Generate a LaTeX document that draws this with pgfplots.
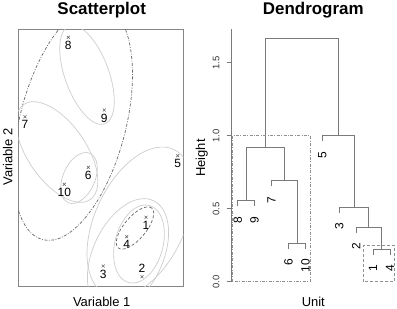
\documentclass[border=0pt]{standalone}
\usepackage{fontspec}
\setmainfont{Liberation Sans}
\usepackage{pgfplots}
\pgfplotsset{compat=1.18}
\definecolor{ellgray}{HTML}{CDCDCD}
\definecolor{dotgray}{HTML}{666666}
\definecolor{framegray}{HTML}{858585}
\definecolor{markgray}{HTML}{666666}
\definecolor{dgray}{HTML}{7A7A7A}
\definecolor{rectgray}{HTML}{909090}
\pgfplotsset{dseg/.style={draw=dgray, line width=0.9bp, mark=none, solid}}
\begin{document}
\begin{tikzpicture}
\path[use as bounding box] (0bp,0bp) rectangle (397bp,309bp);

% ---------------- Scatterplot ----------------
\begin{axis}[
  at={(18.3bp,22.3bp)}, anchor=south west,
  x=1bp, y=1bp,
  xmin=18.3, xmax=183.3, ymin=22.3, ymax=279.7,
  xtick=\empty, ytick=\empty,
  axis line style={draw=framegray, line width=0.9bp},
  clip=true,
]
\draw[dotgray, line width=0.7bp, dash pattern=on 3bp off 1.5bp on 0.8bp off 1.5bp,
  rotate around={75.5:(axis cs:72.9,186.5)}] (axis cs:72.9,186.5) ellipse [x radius=121bp, y radius=53bp];
\draw[ellgray, line width=0.7bp, rotate around={-70:(axis cs:87,234)}] (axis cs:87,234) ellipse [x radius=52bp, y radius=22bp];
\draw[ellgray, line width=0.7bp, rotate around={-55:(axis cs:57,157)}] (axis cs:57,157) ellipse [x radius=58bp, y radius=29bp];
\draw[ellgray, line width=0.7bp, rotate around={66:(axis cs:79,131)}] (axis cs:79,131) ellipse [x radius=27bp, y radius=16bp];
\draw[ellgray, line width=0.7bp, rotate around={75:(axis cs:139,65)}] (axis cs:139,65) ellipse [x radius=40bp, y radius=24bp];
\draw[ellgray, line width=0.7bp, rotate around={65:(axis cs:128,54)}] (axis cs:128,54) ellipse [x radius=60bp, y radius=35bp];
\draw[ellgray, line width=0.7bp, rotate around={65:(axis cs:140,87)}] (axis cs:140,87) ellipse [x radius=80bp, y radius=45bp];
\draw[dotgray, line width=0.7bp, dash pattern=on 3bp off 2bp,
  rotate around={50:(axis cs:135,81)}] (axis cs:135,81) ellipse [x radius=26bp, y radius=11bp];

\addplot[only marks, mark=x, mark size=2bp, mark options={draw=markgray, line width=0.6bp, solid},
  nodes near coords={\pgfplotspointmeta}, point meta=explicit symbolic,
  every node near coord/.append style={anchor=north, inner sep=0pt, yshift=-3.5bp,
    font=\fontsize{12}{12}\selectfont, text=black}]
  coordinates {
  (146,91.7) [1]
  (103.3,43) [3]
  (126.7,72.3) [4]
  (177.7,153.3) [5]
  (88.3,141.7) [6]
  (25,192.3) [7]
  (68.3,271.7) [8]
  (104.3,199) [9]
  (64.3,124.7) [10]
  };
\addplot[only marks, mark=x, mark size=2bp, mark options={draw=markgray, line width=0.6bp, solid},
  nodes near coords={\pgfplotspointmeta}, point meta=explicit symbolic,
  every node near coord/.append style={anchor=south, inner sep=0pt, yshift=3.5bp,
    font=\fontsize{12}{12}\selectfont, text=black}]
  coordinates {
  (142,32.3) [2]
  };
\end{axis}

% ---------------- Dendrogram ----------------
\begin{axis}[
  at={(231.7bp,27.2bp)}, anchor=south west,
  x=1bp, y=146bp,
  xmin=231.7, xmax=397, ymin=0, ymax=1.73,
  axis x line=none, axis y line=left,
  y axis line style={-, draw=dgray, line width=0.9bp},
  ytick={0,0.5,1,1.5},
  tick align=outside, major tick length=5bp,
  tick style={draw=dgray, line width=0.9bp},
  yticklabel style={rotate=90, anchor=south, inner sep=0pt, text=black!80,
    font=\fontsize{9.5}{9.5}\selectfont,
    /pgf/number format/.cd, fixed, fixed zerofill, precision=1, assume math mode=true},
  yticklabel shift=7bp,
  clip=false,
]
\addplot[dseg] coordinates {(237.7,0.516) (237.7,0.555) (254.6,0.555) (254.6,0.516)};
\addplot[dseg] coordinates {(288.5,0.226) (288.5,0.265) (305.4,0.265) (305.4,0.226)};
\addplot[dseg] coordinates {(271.5,0.653) (271.5,0.692) (296.95,0.692) (296.95,0.265)};
\addplot[dseg] coordinates {(246.15,0.555) (246.15,0.92) (284.2,0.92) (284.2,0.692)};
\addplot[dseg] coordinates {(373.1,0.185) (373.1,0.224) (390,0.224) (390,0.185)};
\addplot[dseg] coordinates {(356.1,0.335) (356.1,0.374) (381.55,0.374) (381.55,0.224)};
\addplot[dseg] coordinates {(339.2,0.473) (339.2,0.512) (368.8,0.512) (368.8,0.374)};
\addplot[dseg] coordinates {(322.3,0.961) (322.3,1.0) (354,1.0) (354,0.512)};
\addplot[dseg] coordinates {(265.2,0.92) (265.2,1.667) (338.15,1.667) (338.15,1.0)};

\addplot[draw=none, mark=none,
  nodes near coords={\pgfplotspointmeta}, point meta=explicit symbolic,
  every node near coord/.append style={rotate=90, anchor=east, inner sep=0pt,
    font=\fontsize{12}{12}\selectfont, text=black}]
  coordinates {
  (237.7,0.446) [8]
  (254.6,0.446) [9]
  (271.5,0.583) [7]
  (288.5,0.156) [6]
  (305.4,0.156) [10]
  (322.3,0.891) [5]
  (339.2,0.403) [3]
  (356.1,0.265) [2]
  (373.1,0.115) [1]
  (390,0.115) [4]
  };

\draw[rectgray, line width=0.7bp, dash pattern=on 3bp off 1.5bp on 0.8bp off 1.5bp]
  (axis cs:232.3,0) rectangle (axis cs:310,1.0);
\draw[rectgray, line width=0.7bp, dash pattern=on 3bp off 2bp]
  (axis cs:363.3,0) rectangle (axis cs:394.3,0.25);
\end{axis}

% ---------------- Titles and labels ----------------
\node[font=\bfseries\fontsize{17}{17}\selectfont, anchor=base, inner sep=0pt] at (101.7bp,294.5bp) {Scatterplot};
\node[font=\bfseries\fontsize{17}{17}\selectfont, anchor=base, inner sep=0pt] at (313.3bp,294.5bp) {Dendrogram};
\node[font=\fontsize{13}{13}\selectfont, anchor=base, inner sep=0pt] at (101.7bp,2.5bp) {Variable 1};
\node[font=\fontsize{13}{13}\selectfont, anchor=base, inner sep=0pt] at (313.3bp,2.5bp) {Unit};
\node[font=\fontsize{13}{13}\selectfont, anchor=base, inner sep=0pt, rotate=90] at (12.3bp,152bp) {Variable 2};
\node[font=\fontsize{13}{13}\selectfont, anchor=base, inner sep=0pt, rotate=90] at (205bp,151bp) {Height};
\end{tikzpicture}
\end{document}
